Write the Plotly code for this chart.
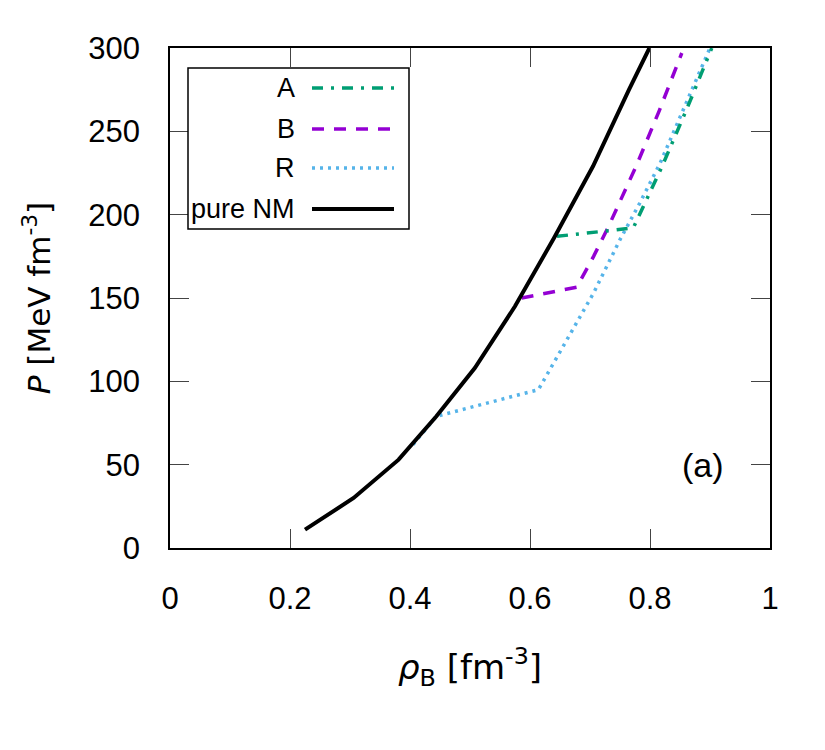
import plotly.graph_objects as go

# ---- data ----
rho_nm = [0.225, 0.306, 0.381, 0.444, 0.508, 0.575, 0.640, 0.705, 0.765, 0.799]
p_nm = [11, 30, 53, 79, 108, 145, 186, 229, 275, 300]

rho_A = [0.645, 0.728, 0.772, 0.819, 0.862, 0.903]
p_A = [187, 190.5, 192, 228, 264, 300]

rho_B = [0.586, 0.678, 0.706, 0.731, 0.778, 0.815, 0.853]
p_B = [150, 156.5, 175, 193, 230, 262, 297]

rho_R = [0.405, 0.444, 0.614, 0.656, 0.706, 0.750, 0.783, 0.817, 0.858, 0.900]
p_R = [62, 79, 95, 121, 153, 185, 207, 231, 265, 300]

x_ticks = [0, 0.2, 0.4, 0.6, 0.8, 1]
x_ticklabels = ["0", "0.2", "0.4", "0.6", "0.8", "1"]
y_ticks = [0, 50, 100, 150, 200, 250, 300]

legend_names = ["A", "B", "R", "pure NM"]
COL_A = "#009E73"
COL_B = "#9400D3"
COL_R = "#56B4E9"
COL_NM = "#000000"
DASH_A = "11px,8px,3px,8px"
DASH_B = "12px,10px"
DASH_R = "3px,5px"

TICKFONT = dict(family="Liberation Sans, Arial", size=31, color="black")
LEGFONT = dict(family="Liberation Sans, Arial", size=27, color="black")
TITLEFONT = dict(family="DejaVu Sans", size=31, color="black")

fig = go.Figure()
fig.add_trace(go.Scatter(x=rho_R, y=p_R, mode="lines", name="R",
                         line=dict(color=COL_R, width=3.5, dash=DASH_R)))
fig.add_trace(go.Scatter(x=rho_B, y=p_B, mode="lines", name="B",
                         line=dict(color=COL_B, width=3.5, dash=DASH_B)))
fig.add_trace(go.Scatter(x=rho_A, y=p_A, mode="lines", name="A",
                         line=dict(color=COL_A, width=3.5, dash=DASH_A)))
fig.add_trace(go.Scatter(x=rho_nm, y=p_nm, mode="lines", name="pure NM",
                         line=dict(color=COL_NM, width=4)))

# ---- manual legend (gnuplot style: text right, sample left) ----
L, T = 170, 48
W, H = 600, 500
def px(xp):
    return (xp - L) / W
def py(yp):
    return 1 - (yp - T) / H

fig.add_shape(type="rect", xref="paper", yref="paper",
              x0=px(188), x1=px(409), y0=py(229), y1=py(68),
              line=dict(color="black", width=1.5), fillcolor="white", layer="above")
rows_y = [88, 129, 168, 209]
cols = [COL_A, COL_B, COL_R, COL_NM]
dashes = [DASH_A, DASH_B, DASH_R, "solid"]
widths = [3.5, 3.5, 3.5, 4]
for name, yy, c, d, w in zip(legend_names, rows_y, cols, dashes, widths):
    fig.add_annotation(xref="paper", yref="paper", x=px(297), y=py(yy),
                       text=name, showarrow=False, xanchor="right", yanchor="middle",
                       font=LEGFONT)
    fig.add_shape(type="line", xref="paper", yref="paper",
                  x0=px(312), x1=px(394), y0=py(yy), y1=py(yy),
                  line=dict(color=c, width=w, dash=d), layer="above")

fig.add_annotation(x=0.888, y=50, xref="x", yref="y", text="(a)", showarrow=False,
                   font=dict(family="Liberation Sans, Arial", size=34, color="black"))

fig.update_layout(
    width=825, height=750,
    margin=dict(l=L, r=825 - L - W, t=T, b=750 - T - H),
    plot_bgcolor="white", paper_bgcolor="white",
    showlegend=False,
    xaxis=dict(range=[0, 1], tickvals=x_ticks, ticktext=x_ticklabels,
               showgrid=False, zeroline=False, showline=True, linecolor="black",
               linewidth=1.5, mirror="allticks", ticks="inside", ticklen=19,
               tickwidth=1.3, tickcolor="#444", tickfont=TICKFONT,
               ticklabelstandoff=22,
               title=dict(text="<i>ρ</i><sub>B</sub> [fm<sup>-3</sup>]",
                          font=dict(family="DejaVu Sans", size=34, color="black"),
                          standoff=40)),
    yaxis=dict(range=[0, 300], tickvals=y_ticks,
               showgrid=False, zeroline=False, showline=True, linecolor="black",
               linewidth=1.5, mirror="allticks", ticks="inside", ticklen=19,
               tickwidth=1.3, tickcolor="#444", tickfont=TICKFONT,
               ticklabelstandoff=22,
               title=dict(text="<i>P</i> [MeV fm<sup>-3</sup>]",
                          font=TITLEFONT, standoff=28)),
)

fig.write_html("out.html")
